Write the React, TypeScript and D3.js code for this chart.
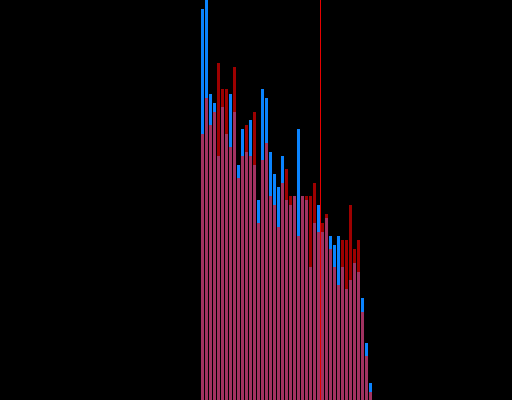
import React from "react";
import * as d3 from "d3";

const bins: number[] = d3.range(43);
const seriesA: number[] = [391, 404, 306, 297, 244, 293, 266, 306, 288, 235, 271, 248, 280, 235, 200, 311, 302, 248, 226, 213, 244, 200, 195, 204, 271, 204, 200, 133, 177, 195, 168, 182, 164, 155, 164, 133, 111, 120, 137, 128, 102, 57, 17];
const seriesB: number[] = [266, 302, 275, 288, 337, 311, 311, 253, 333, 222, 244, 275, 244, 288, 177, 240, 257, 204, 195, 173, 217, 231, 204, 204, 164, 204, 204, 204, 217, 168, 177, 186, 151, 133, 115, 160, 160, 195, 151, 160, 88, 44, 8];
const markerBin = 29.75;

const W = 512;
const H = 400;

export default function App() {
  const x = d3.scaleLinear().domain([0, 1]).range([201, 205]);
  const bw = 3;
  const y = d3.scaleLinear().domain([0, 400]).range([H, 0]);
  return (
    <svg width={W} height={H} style={{ position: "absolute", left: 0, top: 0, background: "#000", display: "block" }}>
      <rect x={0} y={0} width={W} height={H} fill="#000" />
      <g>
        {bins.map((b, i) => (
          <rect key={"a" + i} x={x(b)} y={y(seriesA[i])} width={bw} height={H - y(seriesA[i])} fill="#0a84ff" />
        ))}
      </g>
      <g>
        {bins.map((b, i) => (
          <rect key={"b" + i} x={x(b)} y={y(seriesB[i])} width={bw} height={H - y(seriesB[i])} fill="#ff0000" fillOpacity={0.62} />
        ))}
      </g>
      <line x1={x(markerBin) + 0.5} x2={x(markerBin) + 0.5} y1={0} y2={H} stroke="#e60000" strokeWidth={1} />
    </svg>
  );
}
